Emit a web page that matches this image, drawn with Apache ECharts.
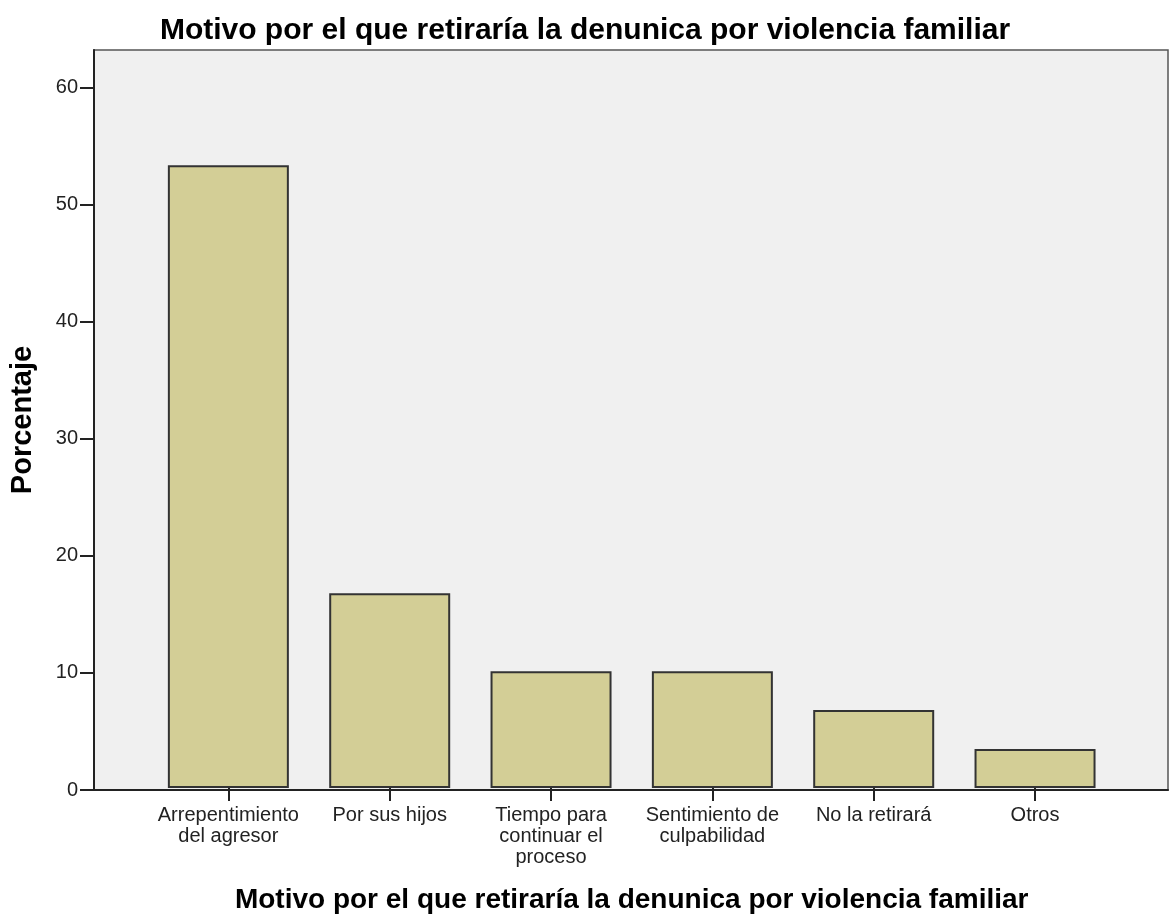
<!DOCTYPE html>
<html>
<head>
<meta charset="utf-8">
<title>Motivo por el que retiraría la denunica</title>
<script src="https://cdn.jsdelivr.net/npm/echarts@6/dist/echarts.min.js"></script>
<style>
  html, body { margin: 0; padding: 0; background: #fff; }
  #chart { width: 1170px; height: 920px; }
</style>
</head>
<body>
<div id="chart"></div>
<script>
// categorías y porcentajes
const categories = [
  'Arrepentimiento\ndel agresor',
  'Por sus hijos',
  'Tiempo para\ncontinuar el\nproceso',
  'Sentimiento de\nculpabilidad',
  'No la retirará',
  'Otros'
]
const percentages = [53.33, 16.67, 10, 10, 6.67, 3.33]
const yMax = 63.2
const yStep = 10

const titleText = 'Motivo por el que retiraría la denunica por violencia familiar'
const xName = 'Motivo por el que retiraría la denunica por violencia familiar'
const yName = 'Porcentaje'

const font = 'Arial, "Liberation Sans", sans-serif'
const chart = echarts.init(document.getElementById('chart'))

const option = {
  animation: false,
  textStyle: { fontFamily: font },
  title: {
    text: titleText,
    left: 'center',
    top: 9,
    textStyle: { fontFamily: font, fontSize: 30, fontWeight: 'bold', color: '#000', lineHeight: 34 }
  },
  grid: [
    // panel de fondo
    { left: 93, right: 2, top: 50, bottom: 130, show: true, backgroundColor: '#f0f0f0', borderColor: '#555', borderWidth: 1.5 },
    // zona de barras
    { left: 147.7, right: 54.3, top: 50, bottom: 130 }
  ],
  xAxis: [
    {
      gridIndex: 0,
      type: 'value',
      min: 0,
      max: 1,
      axisLine: { show: true, lineStyle: { color: '#222', width: 2 } },
      axisTick: { show: false },
      axisLabel: { show: false },
      splitLine: { show: false }
    },
    {
      gridIndex: 1,
      type: 'category',
      data: categories,
      axisLine: { show: false },
      axisTick: { show: true, alignWithLabel: true, length: 13, lineStyle: { color: '#222', width: 2 } },
      axisLabel: { fontFamily: font, fontSize: 20, lineHeight: 21, color: '#222', margin: 17, interval: 0 },
      name: xName,
      nameLocation: 'middle',
      nameGap: 97,
      nameTextStyle: { fontFamily: font, fontSize: 28, fontWeight: 'bold', color: '#000', lineHeight: 30 }
    }
  ],
  yAxis: [
    {
      gridIndex: 0,
      type: 'value',
      min: 0,
      max: yMax,
      interval: yStep,
      axisLine: { show: true, lineStyle: { color: '#222', width: 2 } },
      axisTick: { show: true, length: 14, lineStyle: { color: '#222', width: 2 } },
      axisLabel: { fontFamily: font, fontSize: 20, color: '#222', margin: 16, showMaxLabel: false },
      splitLine: { show: false },
      name: yName,
      nameLocation: 'middle',
      nameRotate: 90,
      nameGap: 57,
      nameTextStyle: { fontFamily: font, fontSize: 29, fontWeight: 'bold', color: '#000' }
    },
    {
      gridIndex: 1,
      type: 'value',
      min: 0,
      max: yMax,
      interval: yStep,
      show: false
    }
  ],
  series: [
    {
      type: 'bar',
      xAxisIndex: 1,
      yAxisIndex: 1,
      barWidth: 121,
      data: percentages,
      itemStyle: { color: '#d3ce96', borderColor: '#333', borderWidth: 2 }
    }
  ]
}
chart.setOption(option)
</script>
</body>
</html>
